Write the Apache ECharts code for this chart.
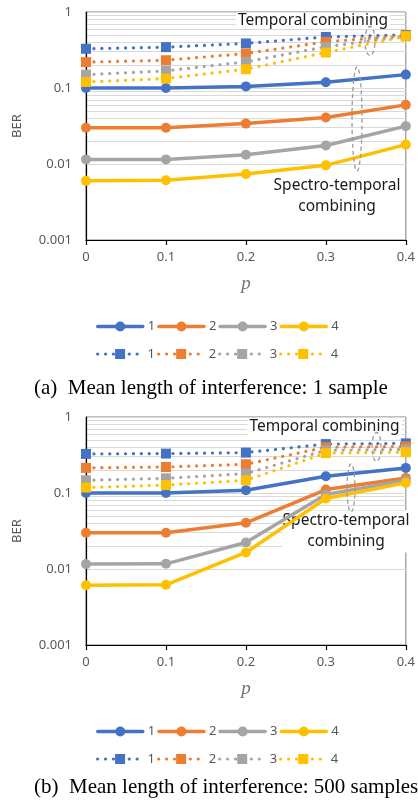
<!DOCTYPE html>
<html>
<head>
<meta charset="utf-8">
<script src="https://cdn.jsdelivr.net/npm/echarts@6/dist/echarts.min.js"></script>
<style>
  html, body { margin: 0; padding: 0; background: #fff; }
  #chart { width: 418px; height: 801px; }
</style>
</head>
<body>
<div id="chart"></div>
<script>
// Interference probability p (x axis)
const pValues = [0, 0.1, 0.2, 0.3, 0.4];
const seriesLabels = ['1', '2', '3', '4'];

// (a) Mean length of interference: 1 sample
// spectro-temporal combining (solid)
const aSpectro1 = [0.100, 0.100, 0.105, 0.119, 0.150];
const aSpectro2 = [0.030, 0.030, 0.034, 0.041, 0.060];
const aSpectro3 = [0.0115, 0.0115, 0.0132, 0.0175, 0.0315];
const aSpectro4 = [0.0060, 0.0061, 0.0074, 0.0096, 0.018];
// temporal combining (dotted)
const aTemporal1 = [0.328, 0.345, 0.386, 0.470, 0.50];
const aTemporal2 = [0.219, 0.232, 0.284, 0.405, 0.49];
const aTemporal3 = [0.150, 0.168, 0.221, 0.348, 0.48];
const aTemporal4 = [0.120, 0.133, 0.177, 0.293, 0.48];

// (b) Mean length of interference: 500 samples
const bSpectro1 = [0.100, 0.100, 0.109, 0.166, 0.214];
const bSpectro2 = [0.030, 0.030, 0.0405, 0.111, 0.158];
const bSpectro3 = [0.0116, 0.0117, 0.0223, 0.0955, 0.147];
const bSpectro4 = [0.0061, 0.0062, 0.0165, 0.0846, 0.136];
const bTemporal1 = [0.327, 0.330, 0.340, 0.440, 0.450];
const bTemporal2 = [0.214, 0.220, 0.239, 0.400, 0.410];
const bTemporal3 = [0.147, 0.156, 0.180, 0.365, 0.375];
const bTemporal4 = [0.118, 0.127, 0.147, 0.335, 0.345];

const palette = ['#4472C4', '#ED7D31', '#A5A5A5', '#FFC000'];
const labelFont = '"Noto Sans", "Open Sans", sans-serif';
const axisGray = '#595959';

// horizontal gridlines at 2..9 x 10^k inside each decade
const minorGridValues = [];
for (let e = -3; e < 0; e++) {
  for (let m = 2; m <= 9; m++) minorGridValues.push(+(m * Math.pow(10, e)).toPrecision(2));
}

const toPoints = vals => pValues.map((p, i) => [p, vals[i]]);

function solidSeries(id, vals, color, g) {
  return {
    name: id, type: 'line', xAxisIndex: g, yAxisIndex: g,
    data: toPoints(vals),
    symbol: 'circle', symbolSize: 10,
    lineStyle: { width: 3.5, color: color, cap: 'round', join: 'round' },
    itemStyle: { color: color },
    emphasis: { disabled: true }
  };
}
function dottedSeries(id, vals, color, g) {
  return {
    name: id, type: 'line', xAxisIndex: g, yAxisIndex: g,
    data: toPoints(vals),
    symbol: 'rect', symbolSize: 10,
    lineStyle: { width: 3.2, color: color, type: [0.1, 7.8], cap: 'round' },
    itemStyle: { color: color },
    emphasis: { disabled: true }
  };
}
function gridLineSeries(g) {
  return {
    type: 'line', xAxisIndex: g, yAxisIndex: g, data: [], silent: true,
    markLine: {
      silent: true, symbol: 'none', z: 0, animation: false,
      label: { show: false },
      lineStyle: { color: '#d9d9d9', width: 1, type: 'solid' },
      emphasis: { disabled: true },
      data: minorGridValues.map(v => ({ yAxis: v }))
    }
  };
}

const panelA = {
  spectro: [aSpectro1, aSpectro2, aSpectro3, aSpectro4],
  temporal: [aTemporal1, aTemporal2, aTemporal3, aTemporal4]
};
const panelB = {
  spectro: [bSpectro1, bSpectro2, bSpectro3, bSpectro4],
  temporal: [bTemporal1, bTemporal2, bTemporal3, bTemporal4]
};

const series = [];
const legends = [];
[[panelA, 'a', 0, 320], [panelB, 'b', 1, 725]].forEach(([panel, key, g, legendTop]) => {
  series.push(gridLineSeries(g));
  const stNames = seriesLabels.map(l => key + '-st-' + l);
  const tNames = seriesLabels.map(l => key + '-t-' + l);
  panel.spectro.forEach((vals, i) => series.push(solidSeries(stNames[i], vals, palette[i], g)));
  panel.temporal.forEach((vals, i) => series.push(dottedSeries(tNames[i], vals, palette[i], g)));
  [stNames, tNames].forEach((names, row) => {
    legends.push({
      data: names, left: 96, top: legendTop + row * 27.5, orient: 'horizontal',
      padding: 0, itemWidth: 45, itemHeight: 12.5, itemGap: 2,
      selectedMode: false,
      formatter: name => name.split('-').pop(),
      lineStyle: { width: 'inherit' },
      textStyle: { color: axisGray, fontSize: 13, fontFamily: labelFont }
    });
  });
});

const grids = [
  { left: 86, top: 12, width: 324, height: 228 },
  { left: 86, top: 417, width: 324, height: 228 }
].map(g => Object.assign(g, { show: true, borderColor: '#7f7f7f', borderWidth: 1, backgroundColor: '#fff' }));

const xAxes = [0, 1].map(g => ({
  type: 'value', gridIndex: g, min: 0, max: 0.4, interval: 0.1,
  name: 'p', nameLocation: 'middle', nameGap: 34,
  nameTextStyle: { fontFamily: '"Liberation Serif", serif', fontStyle: 'italic', fontSize: 19, color: '#767676' },
  axisLine: { show: true, lineStyle: { color: '#000', width: 1.2 } },
  axisTick: { show: true, length: 5, inside: false, lineStyle: { color: '#000', width: 1.2 } },
  axisLabel: { margin: 11, color: axisGray, fontSize: 13, fontFamily: labelFont },
  splitLine: { show: false }
}));

const yAxes = [0, 1].map(g => ({
  type: 'log', logBase: 10, gridIndex: g, min: 0.001, max: 1,
  name: 'BER', nameLocation: 'middle', nameGap: 62, nameRotate: 90,
  nameTextStyle: { fontFamily: labelFont, fontSize: 13, color: axisGray },
  axisLine: { show: true, lineStyle: { color: '#000', width: 1.2 } },
  axisTick: { show: false },
  axisLabel: {
    margin: 14, color: axisGray, fontSize: 13, fontFamily: labelFont,
    formatter: v => String(parseFloat(Number(v).toPrecision(3)))
  },
  splitLine: { show: true, lineStyle: { color: '#d9d9d9', width: 1 } }
}));

const annotationFont = '15.5px "Noto Sans", "Open Sans", sans-serif';
const captionFont = '21px "Liberation Serif", "DejaVu Serif", serif';
const ellipseStyle = { fill: 'none', stroke: '#9a9a9a', lineWidth: 1.3, lineDash: [4, 3] };

const graphics = [
  // panel (a) annotations
  { type: 'text', x: 313, y: 20.5, z: 1,
    style: { text: 'Temporal combining', font: annotationFont, fill: '#1a1a1a', align: 'center', verticalAlign: 'middle',
             lineHeight: 16, backgroundColor: '#fff', padding: [0, 2] } },
  { type: 'text', x: 337, y: 175.5, z: 1,
    style: { text: 'Spectro-temporal\ncombining', font: annotationFont, fill: '#1a1a1a', align: 'center', verticalAlign: 'top',
             lineHeight: 21, backgroundColor: '#fff', padding: [0, 2] } },
  { type: 'ellipse', z: 10, shape: { cx: 370, cy: 41, rx: 5, ry: 14.5 }, style: ellipseStyle },
  { type: 'ellipse', z: 10, shape: { cx: 357, cy: 119, rx: 5, ry: 52 }, style: ellipseStyle },
  { type: 'text', x: 34, y: 388, z: 1,
    style: { text: '(a)  Mean length of interference: 1 sample', font: captionFont, fill: '#000', align: 'left', verticalAlign: 'middle' } },

  // panel (b) annotations
  { type: 'text', x: 324.5, y: 427, z: 1,
    style: { text: 'Temporal combining', font: annotationFont, fill: '#1a1a1a', align: 'center', verticalAlign: 'middle',
             lineHeight: 16, backgroundColor: '#fff', padding: [0, 2] } },
  { type: 'text', x: 346, y: 510.5, z: 1,
    style: { text: 'Spectro-temporal\ncombining', font: annotationFont, fill: '#1a1a1a', align: 'center', verticalAlign: 'top',
             lineHeight: 21, backgroundColor: '#fff', padding: [0, 0] } },
  { type: 'ellipse', z: 10, shape: { cx: 376.5, cy: 447, rx: 4.5, ry: 14.5 }, style: ellipseStyle },
  { type: 'ellipse', z: 10, shape: { cx: 351, cy: 488, rx: 4, ry: 24 }, style: ellipseStyle },
  { type: 'text', x: 34, y: 787.5, z: 1,
    style: { text: '(b)  Mean length of interference: 500 samples', font: captionFont, fill: '#000', align: 'left', verticalAlign: 'middle' } }
];

const chart = echarts.init(document.getElementById('chart'), null, { renderer: 'canvas' });
chart.setOption({
  animation: false,
  backgroundColor: '#fff',
  textStyle: { fontFamily: labelFont },
  grid: grids,
  xAxis: xAxes,
  yAxis: yAxes,
  legend: legends,
  series: series,
  graphic: { elements: graphics }
});
</script>
</body>
</html>
